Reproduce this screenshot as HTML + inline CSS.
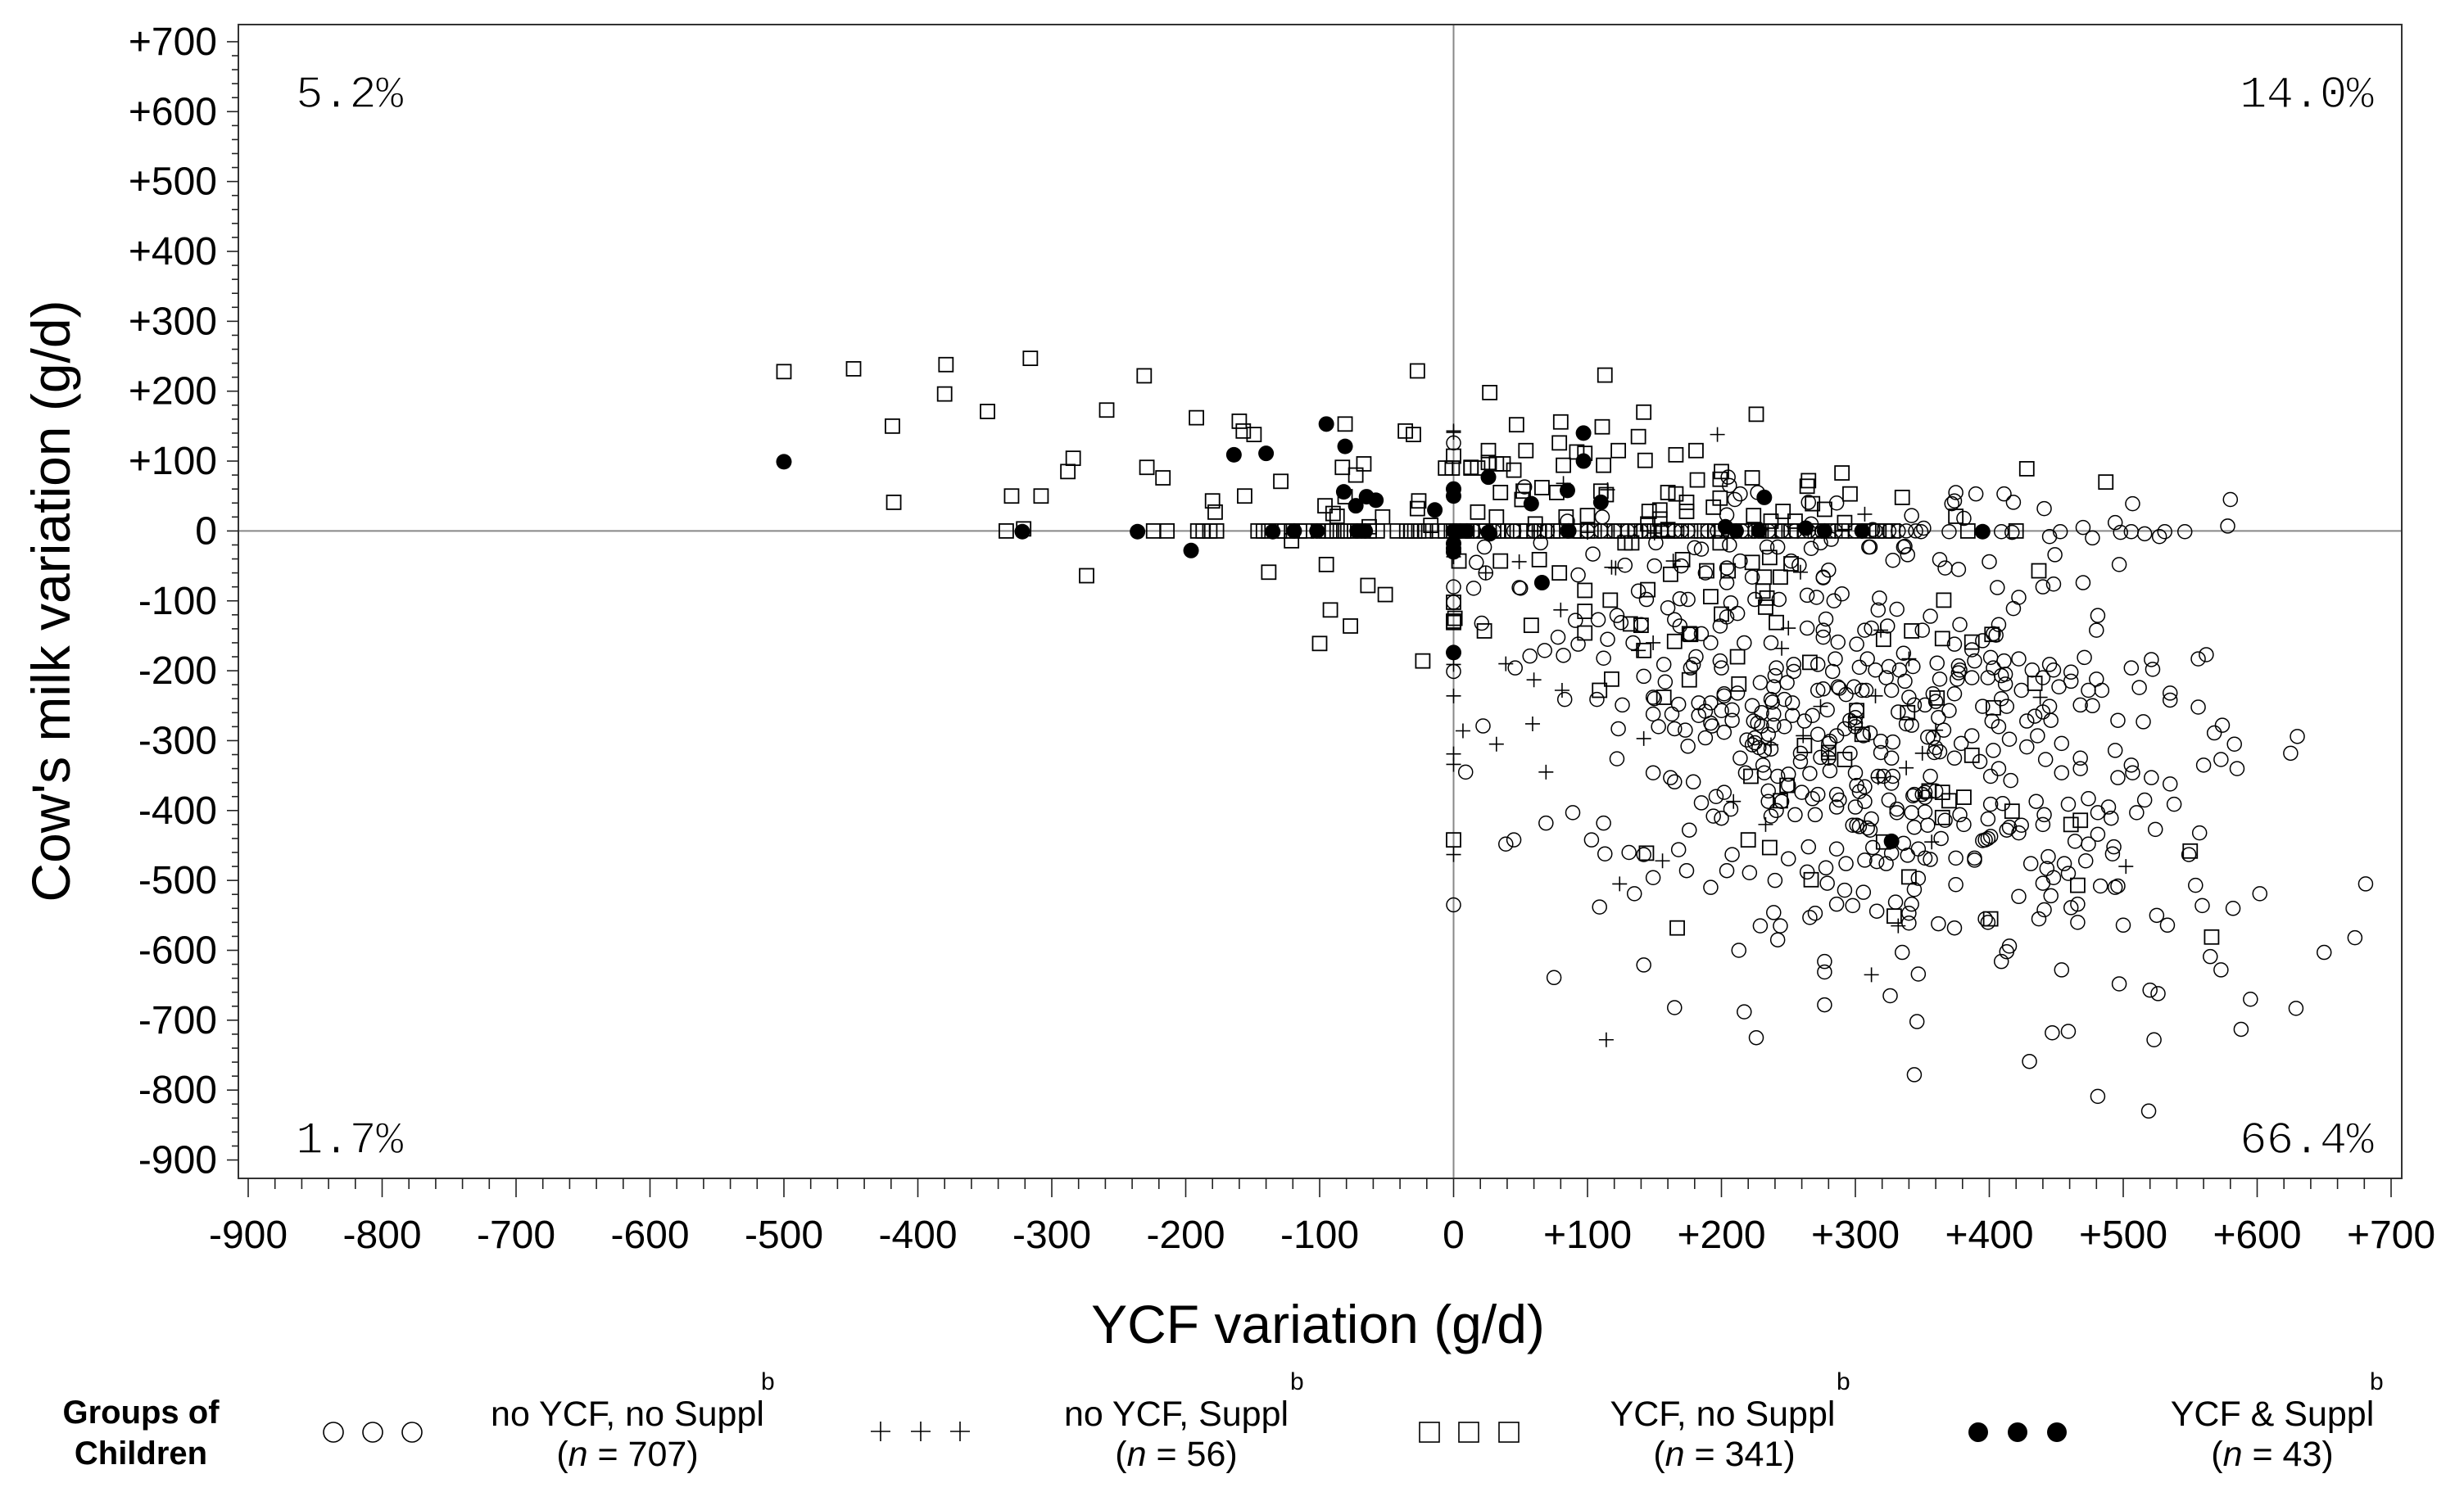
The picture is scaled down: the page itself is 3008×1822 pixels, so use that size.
<!DOCTYPE html>
<html lang="en">
<head>
<meta charset="utf-8">
<title>Cow's milk variation vs YCF variation</title>
<style>
html,body{margin:0;padding:0;background:#fff;}
svg{display:block;}
text{font-family:"Liberation Sans",sans-serif;fill:#000;}
.tick{font-size:48px;}
.title{font-size:66px;}
.leg{font-size:43px;text-anchor:middle;}
.sup{font-size:30px;}
.head{font-size:40px;font-weight:bold;text-anchor:middle;}
.pct{font-family:"Liberation Mono",monospace;font-size:56px;letter-spacing:-1px;stroke:#fff;stroke-width:1.5px;}
</style>
</head>
<body>
<svg id="chart" xmlns="http://www.w3.org/2000/svg" width="3008" height="1822" viewBox="0 0 3008 1822">
  <rect x="291" y="30" width="2641" height="1409" fill="#fff" stroke="#333" stroke-width="2"/>
  <g id="refs"></g>
  <g id="xaxis"></g>
  <g id="yaxis"></g>
  <g id="marks"></g>

  <text class="pct" x="361" y="131">5.2%</text>
  <text class="pct" x="2897" y="131" text-anchor="end">14.0%</text>
  <text class="pct" x="361" y="1408">1.7%</text>
  <text class="pct" x="2897" y="1408" text-anchor="end">66.4%</text>

  <text class="title" x="1609" y="1640" text-anchor="middle">YCF variation (g/d)</text>
  <text class="title" transform="translate(85 734) rotate(-90)" text-anchor="middle">Cow's milk variation (g/d)</text>

  <g>
    <text class="head" x="172" y="1738">Groups of</text>
    <text class="head" x="172" y="1788">Children</text>

    <g fill="none" stroke="#000" stroke-width="1.6">
      <circle cx="407" cy="1749" r="12"/><circle cx="455" cy="1749" r="12"/><circle cx="503" cy="1749" r="12"/>
    </g>
    <text class="leg" x="766" y="1741">no YCF, no Suppl</text>
    <text class="leg" x="766" y="1790">(<tspan font-style="italic">n</tspan> = 707)</text>
    <text class="sup" x="929" y="1697">b</text>

    <g fill="none" stroke="#000" stroke-width="1.6">
      <path d="M1063 1748h24M1075 1736v24M1112 1748h24M1124 1736v24M1160 1748h24M1172 1736v24"/>
    </g>
    <text class="leg" x="1436" y="1741">no YCF, Suppl</text>
    <text class="leg" x="1436" y="1790">(<tspan font-style="italic">n</tspan> = 56)</text>
    <text class="sup" x="1575" y="1697">b</text>

    <g fill="none" stroke="#000" stroke-width="1.6">
      <rect x="1733" y="1737" width="24" height="24"/><rect x="1781" y="1737" width="24" height="24"/><rect x="1830" y="1737" width="24" height="24"/>
    </g>
    <text class="leg" x="2103" y="1741">YCF, no Suppl</text>
    <text class="leg" x="2105" y="1790">(<tspan font-style="italic">n</tspan> = 341)</text>
    <text class="sup" x="2242" y="1697">b</text>

    <g fill="#000">
      <circle cx="2415" cy="1749" r="12"/><circle cx="2463" cy="1749" r="12"/><circle cx="2511" cy="1749" r="12"/>
    </g>
    <text class="leg" x="2774" y="1741">YCF &amp; Suppl</text>
    <text class="leg" x="2774" y="1790">(<tspan font-style="italic">n</tspan> = 43)</text>
    <text class="sup" x="2893" y="1697">b</text>
  </g>
</svg>

<script>
const xTickValues = [-900,-800,-700,-600,-500,-400,-300,-200,-100,0,100,200,300,400,500,600,700];
const yTickValues = [-900,-800,-700,-600,-500,-400,-300,-200,-100,0,100,200,300,400,500,600,700];

const noYcfNoSuppl = [
[0,-80],[15,-82],[49,-81],[93,-63],[138,-86],[144,-98],[160,-110],[169,-97],[175,-98],[207,-103],[225,-98],[243,-98],[264,-92],[271,-95],[284,-100],[290,-90],[318,-96],[331,-112],[317,-113],[406,-81],[422,-95],[418,-111],[440,-80],[448,-76],[470,-74],[276,-67],[481,-121],[480,-142],[122,-121],[108,-127],[91,-128],[21,-132],[125,-131],[140,-134],[165,-127],[169,-136],[199,-136],[212,-118],[204,-123],[185,-147],[176,-147],[192,-160],[217,-160],[237,-160],[264,-139],[276,-142],[278,-126],[276,-152],[287,-159],[301,-162],[307,-142],[312,-139],[324,-136],[350,-142],[356,-122],[378,-134],[374,-162],[403,-147],[405,-149],[407,-134],[395,-157],[387,-170],[78,-152],[93,-162],[115,-155],[134,-160],[112,-182],[82,-178],[68,-171],[57,-179],[46,-196],[0,-201],[142,-208],[157,-191],[158,-216],[179,-191],[181,-180],[177,-196],[199,-186],[200,-196],[241,-196],[240,-207],[254,-191],[285,-183],[283,-201],[272,-191],[303,-195],[309,-183],[315,-199],[325,-194],[333,-199],[336,-175],[343,-194],[337,-215],[323,-210],[361,-189],[363,-212],[376,-212],[378,-199],[387,-210],[389,-186],[401,-181],[411,-186],[403,-196],[399,-210],[409,-207],[422,-183],[432,-199],[445,-191],[440,-210],[448,-199],[461,-202],[461,-215],[452,-223],[424,-228],[471,-181],[480,-212],[474,-228],[484,-228],[506,-196],[521,-184],[522,-198],[512,-224],[535,-232],[535,-242],[556,-183],[562,-177],[556,-252],
[468,-249],[477,-250],[496,-271],[515,-273],[445,-251],[440,-259],[446,-271],[434,-265],[428,-272],[436,-293],[415,-298],[407,-280],[402,-272],[413,-251],[395,-251],[370,-257],[362,-267],[352,-249],[374,-233],[358,-233],[344,-249],[340,-238],[327,-228],[338,-276],[342,-278],[332,-259],[319,-301],[328,-302],[305,-228],[299,-223],[288,-225],[272,-228],[239,-223],[229,-217],[249,-217],[253,-246],[247,-241],[237,-241],[223,-250],[239,-262],[253,-264],[227,-275],[239,-278],[247,-280],[262,-272],[268,-264],[272,-291],[280,-304],[300,-267],[300,-280],[286,-293],[214,-325],[224,-272],[225,-296],[232,-314],[237,-312],[223,-306],[231,-335],[218,-346],[242,-351],[250,-348],[266,-347],[259,-330],[280,-325],[281,-343],[300,-346],[307,-366],[301,-364],[319,-317],[327,-325],[328,-351],[321,-351],[358,-296],[379,-304],[387,-293],[403,-314],[407,-340],[401,-351],[416,-357],[428,-309],[454,-304],[442,-327],[454,-346],[468,-325],[468,-340],[494,-314],[506,-335],[507,-346],[496,-353],[521,-353],[535,-362],[560,-335],[374,-325],[359,-317],[356,-351],[352,-374],[344,-377],[360,-372],[325,-385],[307,-387],[300,-395],[286,-377],[286,-395],[272,-377],[270,-406],[260,-374],[255,-406],[241,-400],[235,-372],[235,-387],[245,-387],[237,-408],[207,-398],[202,-374],[196,-380],[185,-389],[194,-408],[200,-411],[176,-428],[122,-326],[149,-346],[162,-353],[165,-359],[179,-359],[83,-241],[107,-241],[126,-249],[149,-238],[149,-262],[163,-262],[168,-248],[183,-246],[192,-246],[153,-280],[165,-283],[173,-285],[183,-264],[188,-296],[175,-308],[202,-288],[192,-275],[200,-257],[202,-233],[123,-283],[22,-279],[9,-345],[89,-403],[69,-418],[112,-418],[39,-448],[45,-442],[103,-442],[113,-462],[131,-460],[142,-463],[135,-519],[149,-496],[168,-456],[174,-486],[192,-510],[204,-486],[221,-489],[208,-463],[240,-500],[250,-469],[265,-452],[286,-455],[293,-476],[264,-488],[278,-482],[279,-504],[292,-514],[306,-517],[307,-471],[313,-453],[323,-476],[327,-461],[339,-464],[352,-468],[347,-497],[344,-513],[342,-534],[330,-531],[340,-547],[286,-534],[298,-536],[316,-544],[375,-468],[389,-468],[375,-506],[399,-440],[397,-442],[381,-420],[378,-406],[344,-424],[354,-421],[364,-440],[342,-403],[331,-403],[301,-421],[309,-425],[298,-421],[422,-523],[415,-424],[424,-421],[399,-412],[410,-390],[401,-391],[435,-387],[441,-406],[440,-420],[459,-391],[474,-383],[481,-403],[491,-411],[489,-395],[510,-403],[516,-385],[538,-391],[481,-434],[464,-444],[474,-448],[493,-452],[492,-462],[524,-427],[557,-432],[549,-463],[431,-476],[444,-466],[443,-483],[456,-476],[448,-496],[459,-490],[440,-504],[472,-472],[446,-522],[441,-542],[437,-555],[461,-539],[466,-534],[466,-560],[483,-508],[494,-510],[496,-508],[554,-507],[559,-536],[500,-564],[525,-550],[533,-564],[362,-562],[374,-568],[397,-555],[399,-560],[340,-561],[239,-546],[229,-565],[244,-565],[242,-585],[266,-553],[270,-547],[109,-538],[0,-535],[213,-600],[142,-621],[75,-639],[165,-682],[217,-688],[226,-725],[277,-616],[277,-631],[277,-678],[335,-603],[347,-634],[326,-665],[346,-702],[344,-778],[415,-594],[413,-602],[409,-616],[454,-628],[497,-648],[520,-657],[526,-662],[447,-718],[459,-716],[523,-728],[430,-759],[481,-809],[519,-830],[565,-609],
[574,-278],[568,-289],[583,-305],[573,-327],[585,-340],[630,-294],[625,-318],[582,-540],[602,-519],[573,-628],[595,-670],[588,-713],[629,-683],[650,-603],[673,-582],[681,-505],
[507,39],[580,45],[441,32],[418,41],[390,53],[374,43],[372,39],[375,55],[411,53],[342,22],[381,18],[351,4],[349,-1],[370,-1],[409,-1],[417,-2],[445,-8],[453,-1],[470,5],[477,-10],[494,12],[498,-2],[506,-1],[516,-4],[531,-1],[527,-8],[546,-1],[578,7],[311,-23],[336,-23],[337,-22],[339,-34],[328,-42],[363,-41],[367,-53],[377,-55],[400,-44],[449,-34],[497,-48],
[0,126],[205,77],[206,65],[214,53],[210,45],[227,55],[265,41],[286,40],[204,23],[85,14],[111,20],[53,63],[23,-23],[65,-17],[104,-33],[151,-17],[128,-49],[150,-50],[170,-50],[185,-26],[180,-24],[206,-20],[17,-45],[24,-60],[50,-82],[234,-23],[242,-23],[267,-25],[310,-23],[274,-17],[282,-12],[267,10],[313,2],[204,-53],[214,-43],[223,-66],[204,-74],[188,-60],[252,-43],[258,-49],[280,-56],[276,-66],[0,-102],
[15,0],[30,0],[45,0],[60,0],[70,0],[85,0],[100,0],[110,0],[120,0],[130,0],[140,0],[155,0],[165,0],[170,0],[175,0],[190,0],[197,0],[205,0],[215,0],[225,0],[235,0],[245,0],[255,0],[265,0],[275,0],[285,0],[300,0],[305,0],[315,0],[325,0],[332,0],[338,0],[345,0],
[150,-240],[212,-232],[202,-236],[188,-258],[193,-279],[208,-271],[208,-256],[230,-260],[230,-279],[219,-299],[225,-303],[228,-310],[235,-291],[232,-346],[238,-245],[250,-364],[254,-201],[279,-256],[276,-226],[287,-223],[293,-234],[308,-228],[301,-256],[292,-283],[296,-271],[300,-275],[311,-289],[306,-293],[259,-318],[274,-324],[281,-301],[296,-318],[303,-373],[317,-351],[327,-361],[288,-385],[268,-383],[312,-412],[303,-423],[311,-428],[331,-398],[343,-379],[350,-377],[352,-381],[352,-402],[367,-414],[336,-447],[316,-473],[347,-455],[356,-470],[389,-471],[395,-443],[401,-437],[413,-428],[422,-432],[377,-193],[377,-203],[360,-244],[366,-285],[354,-295],[360,-310],[363,-316],[393,-330],[409,-240],[412,-205],[412,-219]
];

const noYcfSuppl = [
[0,141],[0,-37],[0,-191],[0,-236],[7,-286],[24,-60],[80,-113],[149,-160],[138,-171],[250,-139],[245,-168],[39,-190],[60,-213],[81,-228],[59,-276],[32,-305],[142,-297],[0,-319],[0,-334],[69,-345],[0,-463],[124,-505],[156,-472],[209,-387],[233,-420],[315,-236],[274,-251],[261,-293],[237,-306],[280,-322],[338,-339],[317,-353],[350,-318],[360,-285],[438,-238],[340,-183],[357,-445],[332,-565],[312,-635],[114,-728],[502,-480],[319,-142],[197,138],[307,24],[82,68],[115,59],[49,-44],[164,-43],[121,-53],[259,-59],[100,-2],[118,-52],[0,143],[150,-3],[230,2],[290,0]
];

const ycfNoSuppl = [
[-500,228],[-448,232],[-379,238],[-380,196],[-316,247],[-348,171],[-419,150],[-418,41],[-231,222],[-259,173],[-192,162],[-160,157],[-157,143],[-149,138],[-81,153],[-36,143],[-30,138],[-27,229],[0,107],[-6,90],[-1,90],[13,90],[-284,104],[-288,85],[-229,91],[-217,76],[-330,50],[-308,50],[-129,71],[-156,50],[-67,96],[-83,91],[-73,80],[-180,43],[-178,27],[-96,36],[-90,25],[-87,21],[-81,49],[-53,20],[-63,6],[-26,43],[-27,32],[-17,8],[-321,3],
[-334,0],[-224,0],[-214,0],[-191,0],[-187,0],[-182,0],[-177,0],[-146,0],[-142,0],[-138,0],[-130,0],[-126,0],[-121,0],[-115,0],[-110,0],[-101,0],[-95,0],[-91,0],[-87,0],[-82,0],[-79,0],[-74,0],[-68,0],[-63,0],[-57,0],[-42,0],[-35,0],[-32,0],[-29,0],[-26,0],[-21,0],[-12,0],[-6,0],[0,0],[7,0],
[-121,-14],[-95,-48],[-138,-59],[-274,-64],[-64,-78],[-51,-91],[-92,-113],[-77,-136],[-100,-161],[-23,-186],[4,-43],[0,-102],[1,-125],[0,-131],
[47,152],[80,156],[111,149],[142,170],[226,167],[138,135],[79,126],[92,113],[98,111],[54,115],[26,115],[123,115],[166,109],[181,115],[143,101],[82,94],[112,94],[13,91],[18,90],[26,98],[32,96],[37,96],[45,87],[200,85],[199,74],[182,73],[223,76],[265,72],[264,64],[290,83],[296,53],[35,55],[52,57],[51,45],[66,62],[77,55],[110,57],[114,52],[160,55],[166,53],[174,41],[174,28],[199,47],[194,34],[18,27],[32,20],[84,20],[100,22],[61,10],[146,28],[154,30],[154,17],[145,10],[160,2],[224,22],[237,14],[246,28],[255,14],[277,31],[268,39],[292,12],[113,223],[27,198],[428,89],[487,70],[335,48],[375,21],
[10,0],[14,0],[20,0],[24,0],[30,0],[33,0],[37,0],[44,0],[50,0],[55,0],[60,0],[64,0],[68,0],[74,0],[80,0],[90,0],[95,0],[100,0],[105,0],[113,0],[120,0],[125,0],[130,0],[136,0],[142,0],[146,0],[150,0],[155,0],[160,0],[165,0],[170,0],[177,0],[185,0],[190,0],[195,0],[200,0],[207,0],[215,0],[220,0],[228,0],[235,0],[240,0],[246,0],[252,0],[262,0],[270,0],[280,0],[290,0],[300,0],[310,0],[316,0],[322,0],[328,0],[384,0],[420,0],
[128,-17],[133,-17],[199,-17],[35,-43],[64,-41],[79,-60],[98,-85],[117,-99],[171,-41],[162,-62],[189,-57],[205,-57],[223,-45],[236,-38],[252,-47],[232,-66],[244,-66],[145,-84],[192,-94],[231,-86],[234,-96],[233,-109],[200,-119],[98,-115],[58,-135],[23,-143],[132,-133],[140,-135],[98,-146],[241,-131],[177,-148],[165,-158],[0,-129],
[118,-212],[109,-228],[142,-171],[157,-238],[176,-213],[213,-219],[212,-180],[266,-188],[176,-147],[321,-155],[342,-143],[365,-154],[366,-99],[387,-159],[434,-218],[361,-239],[403,-253],[339,-260],[301,-257],[305,-291],[262,-307],[280,-317],[292,-327],[249,-364],[222,-351],[244,-386],[387,-321],[355,-372],[365,-374],[370,-386],[381,-381],[365,-410],[417,-401],[461,-420],[468,-414],[220,-442],[236,-453],[144,-461],[0,-442],[321,-445],[267,-499],[340,-495],[466,-507],[329,-551],[401,-555],[167,-568],[550,-458],[566,-581],[437,-57],[402,-148]
];

const ycfAndSuppl = [
[-500,99],[-322,-1],[-236,-1],[-196,-28],[-164,109],[-140,111],[-135,-1],[-119,0],[-102,0],[-95,153],[-81,121],[-82,56],[-65,49],[-58,44],[-73,36],[-72,0],[-66,0],[-14,30],[0,50],[0,60],[0,-18],[0,-25],[0,-30],[0,-174],[2,0],[0,0],[5,0],[10,0],[97,140],[97,100],[26,77],[85,58],[58,39],[110,41],[66,-74],[232,48],[26,-2],[27,-4],[86,0],[203,6],[211,0],[228,0],[263,4],[277,0],[305,0],[395,-1],[327,-444]
];

const SVGNS = 'http://www.w3.org/2000/svg';
const X0 = 1774.5, XS = 1.635, Y0 = 648.4, YS = 0.8535;
function xScale(v){ return X0 + v * XS; }
function yScale(v){ return Y0 - v * YS; }
function fmtTick(v){ return v > 0 ? '+' + v : String(v); }
function make(tag, attrs, parent){
  const el = document.createElementNS(SVGNS, tag);
  for (const k in attrs) el.setAttribute(k, attrs[k]);
  parent.appendChild(el);
  return el;
}

const xAxisG = document.getElementById('xaxis');
const yAxisG = document.getElementById('yaxis');
const marksG = document.getElementById('marks');
const refsG = document.getElementById('refs');

const refH = make('line', {x1:292, x2:2931, y1:yScale(0), y2:yScale(0), stroke:'#888', 'stroke-width':2}, refsG);


const refV = make('line', {x1:xScale(0), x2:xScale(0), y1:31, y2:1438, stroke:'#888', 'stroke-width':2}, refsG);



xTickValues.forEach(function(v, i){
  const t = make('line', {x1:xScale(v), x2:xScale(v), y1:1439, y2:1462, stroke:'#222', 'stroke-width':1.6}, xAxisG);
  
  
  const lab = make('text', {x:xScale(v), y:1524, 'text-anchor':'middle', class:'tick'}, xAxisG);
  
  
  lab.textContent = fmtTick(v);
  if (i < xTickValues.length - 1) {
    const step = (xTickValues[i+1] - v) / 5;
    for (let k = 1; k < 5; k++) {
      const m = make('line', {x1:xScale(v + k*step), x2:xScale(v + k*step), y1:1439, y2:1452, stroke:'#222', 'stroke-width':1.6}, xAxisG);
      
      
    }
  }
});

yTickValues.forEach(function(v, i){
  const t = make('line', {x1:277, x2:291, y1:yScale(v), y2:yScale(v), stroke:'#222', 'stroke-width':1.6}, yAxisG);
  
  
  const lab = make('text', {x:265, y:yScale(v) + 16, 'text-anchor':'end', class:'tick'}, yAxisG);
  
  
  lab.textContent = fmtTick(v);
  if (i < yTickValues.length - 1) {
    const step = (yTickValues[i+1] - v) / 5;
    for (let k = 1; k < 5; k++) {
      const m = make('line', {x1:283, x2:291, y1:yScale(v + k*step), y2:yScale(v + k*step), stroke:'#222', 'stroke-width':1.6}, yAxisG);
      
      
    }
  }
});

noYcfNoSuppl.forEach(function(p){
  const c = make('circle', {cx:xScale(p[0]), cy:yScale(p[1]), r:8.5, fill:'none', stroke:'#000', 'stroke-width':1.5}, marksG);
  
  
});
noYcfSuppl.forEach(function(p){
  const cx = xScale(p[0]), cy = yScale(p[1]);
  const d = 'M' + (cx-9) + ' ' + cy + 'h18M' + cx + ' ' + (cy-9) + 'v18';
  const c = make('path', {d:d, fill:'none', stroke:'#000', 'stroke-width':1.6}, marksG);
  
  
});
ycfNoSuppl.forEach(function(p){
  const c = make('rect', {x:xScale(p[0])-8.5, y:yScale(p[1])-8.5, width:17, height:17, fill:'none', stroke:'#000', 'stroke-width':1.8}, marksG);
  
  
});
ycfAndSuppl.forEach(function(p){
  const c = make('circle', {cx:xScale(p[0]), cy:yScale(p[1]), r:9.5, fill:'#000'}, marksG);
  
  
});
</script>
</body>
</html>
